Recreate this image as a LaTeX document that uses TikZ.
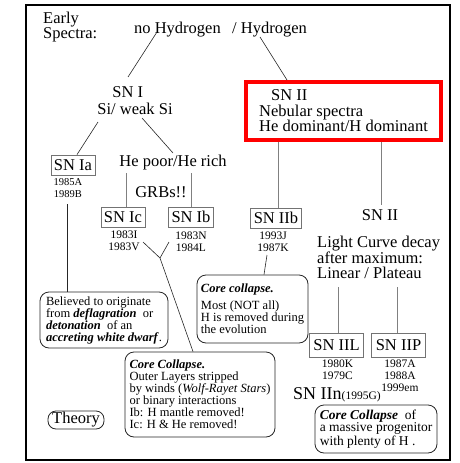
\documentclass[tikz,border=0pt]{standalone}
\usepackage{fontspec}
\setmainfont{Liberation Serif}
\usetikzlibrary{calc}
\begin{document}
\begin{tikzpicture}[x=1pt,y=-1pt,
  big/.style={font=\fontsize{16.5}{14}\selectfont, inner sep=0pt},
  dates/.style={font=\fontsize{11.5}{12}\selectfont, align=center, inner sep=0pt},
  sq/.style={draw=black!55, line width=0.8pt, font=\fontsize{16.5}{14}\selectfont, inner xsep=3pt, inner ysep=1pt, minimum height=20pt},
  rbox/.style={draw=black!85, line width=0.8pt, rounded corners=9pt, align=left, inner sep=2pt, font=\fontsize{12.5}{12}\selectfont},
  ln/.style={draw=black!85, line width=0.6pt},
  vl/.style={draw=black!50, line width=0.8pt}]
\useasboundingbox (0,0) rectangle (459,463);
\draw[line width=2.5pt] (26,5) rectangle (450,460);

% top texts
\node[big, anchor=west, align=left] (early) at (43,27) {Early\\Spectra:};
\node[big, anchor=west] (noH) at (134,30) {no Hydrogen};
\node[big, anchor=west] (H) at (232,30) {/ Hydrogen};

% SN I branch
\node[big, align=left, font=\fontsize{16.5}{17}\selectfont] (snI) at (135,101) {\hspace*{15pt}SN I\\Si/ weak Si};
\node[sq] (snIa) at (73,165) {SN Ia};
\node[dates, font=\fontsize{10.5}{11.5}\selectfont] (iaD) at (68,188) {1985A\\1989B};
\node[big] (he) at (173,163) {He poor/He rich};
\node[big] (grb) at (161,192) {GRBs!!};
\node[sq] (snIc) at (123,217) {SN Ic};
\node[sq] (snIb) at (191,217) {SN Ib};
\node[dates] (icD) at (124,241) {1983I\\1983V};
\node[dates] (ibD) at (191,242) {1983N\\1984L};
\coordinate (jn) at (160,258);

% SN II branch
\node[draw=red, line width=4pt, minimum width=195pt, minimum height=58pt, align=left, inner sep=0pt, font=\fontsize{16.5}{15.5}\selectfont] (red) at (343.5,111) {\hspace*{12pt}SN II\\Nebular spectra\\He dominant/H dominant};
\node[sq] (snIIb) at (276,218) {SN IIb};
\node[dates] (iibD) at (273,242) {1993J\\1987K};
\node[big] (snII) at (380,215) {SN II};
\node[big, anchor=west, align=left, font=\fontsize{16.5}{15}\selectfont] (lc) at (317,257) {Light Curve decay\\after maximum:\\Linear / Plateau};
\node[sq, minimum height=24pt, inner xsep=3.5pt] (snIIL) at (336.5,345) {SN IIL};
\node[sq, minimum height=24pt, inner xsep=4pt] (snIIP) at (398.5,345) {SN IIP};
\node[dates] (iilD) at (337.5,370) {1980K\\1979C};
\node[dates] (iipD) at (400,376) {1987A\\1988A\\1999em};
\node[anchor=base west, inner sep=0pt, font=\fontsize{18}{18}\selectfont] (snIIn) at (293,399) {SN IIn{\fontsize{11.5}{12}\selectfont(1995G)}};

% rounded boxes
\node[rbox, minimum width=128pt, minimum height=56pt] (bel) at (104,320) {Believed to originate\\from \textbf{\textit{deflagration}}~ or\\\textbf{\textit{detonation}}~ of an\\\textbf{\textit{accreting white dwarf}}.};
\node[rbox, minimum width=111pt, minimum height=68pt] (cc2) at (252.5,309) {\textbf{\textit{Core collapse.}}\\[5pt]Most (NOT all)\\H is removed during\\the evolution};
\node[rbox, minimum width=150pt, minimum height=85pt] (cc1) at (200,394.5) {\textbf{\textit{Core Collapse.}}\\Outer Layers stripped\\by winds (\textit{Wolf-Rayet Stars})\\or binary interactions\\Ib: H mantle removed!\\Ic: H \& He removed!};
\node[rbox, minimum width=122pt, minimum height=48pt, inner sep=1pt, font=\fontsize{13.5}{11.5}\selectfont] (cc3) at (376,429) {\textbf{\textit{Core Collapse}}~ of\\a massive progenitor\\with plenty of H .};
\node[draw=black!85, line width=0.8pt, rounded corners=8pt, font=\fontsize{16.5}{14}\selectfont, minimum width=56pt, minimum height=18pt, inner sep=1pt] (th) at (76,420) {Theory};

% connectors
\draw[ln] ($(noH.west)+(23,2)$) -- ($(snI.center)+(-7,-24)$);
\draw[ln] ($(H.west)+(28,7)$) -- ($(red.north)+(-56.5,0)$);
\draw[ln] ($(snI.center)+(-37,21)$) -- ($(snIa.north)+(4,0)$);
\draw[ln] ($(snI.center)+(7,17)$) -- ($(he.center)+(0,-10)$);
\draw[vl] ($(he.center)+(-47,10)$) -- ($(snIc.north)+(3,0)$);
\draw[vl] ($(he.center)+(18,10)$) -- (snIb.north);
\draw[ln] ($(iaD.center)+(-1,16)$) -- ($(bel.north)+(-37,0)$);
\draw[ln] ($(icD.center)+(19,1)$) -- (jn);
\draw[ln] ($(ibD.center)+(-22,0)$) -- (jn);
\draw[ln] (jn) -- ($(cc1.north)+(-7,0)$);
\draw[vl] ($(red.south)+(-65.5,0)$) -- ($(snIIb.north)+(2,0)$);
\draw[vl] ($(red.south)+(37.5,0)$) -- ($(snII.center)+(1,-10)$);
\draw[ln] ($(iibD.center)+(-6,13)$) -- ($(cc2.north)+(11.5,0)$);
\draw[vl] ($(lc.west)+(21,30)$) -- ($(snIIL.north)+(1.5,0)$);
\draw[vl] ($(lc.west)+(80,30)$) -- ($(snIIP.north)+(-1.5,0)$);
\end{tikzpicture}
\end{document}
